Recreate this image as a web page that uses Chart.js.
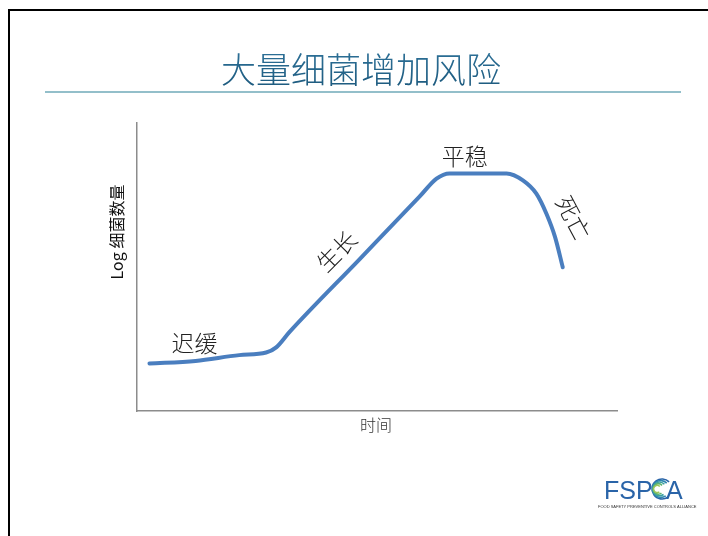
<!DOCTYPE html>
<html>
<head>
<meta charset="utf-8">
<script src="https://cdn.jsdelivr.net/npm/chart.js@4.4.0/dist/chart.umd.min.js"></script>
<style>
  html, body { margin: 0; padding: 0; background: #fff; }
  #wrap { position: relative; width: 708px; height: 536px; overflow: hidden; }
</style>
</head>
<body>
<div id="wrap"><canvas id="growthChart" width="708" height="536"></canvas></div>
<script>
// growth curve (time 0-100, log count 0-100)
const timeValues = [2.6, 12.2, 21.3, 26.9, 29.0, 31.7, 46.3, 58.9, 62.4, 65.1, 77.0, 80.4, 83.2, 85.3, 87.1, 88.7];
const logCounts = [16.5, 17.4, 19.4, 20.3, 22.1, 27.3, 52.6, 74.5, 80.7, 82.5, 82.5, 80.1, 75.5, 68.5, 60.4, 49.9];

// phase labels: text, x, y (data units), rotation in degrees
const phaseNames = ['迟缓', '生长', '平稳', '死亡'];
const phaseX = [12, 41.6, 68.3, 90.9];
const phaseY = [23.5, 55.5, 88.5, 67];
const phaseAngle = [0, -45, 0, 62];

const titleText = '大量细菌增加风险';
const xAxisTitle = '时间';
const yAxisTitle = 'Log 细菌数量';

const cjk = '"Noto Sans CJK SC", "Noto Sans", sans-serif';

// draws the slide frame, title, phase labels and logo
const slidePlugin = {
    id: 'slide',
    beforeDraw(chart) {
        const ctx = chart.ctx;
        ctx.save();
        ctx.fillStyle = '#fff';
        ctx.fillRect(0, 0, chart.width, chart.height);
        // frame
        ctx.fillStyle = '#000';
        ctx.fillRect(8, 9, 700, 2);
        ctx.fillRect(8, 9, 2, 527);
        // title
        const grad = ctx.createLinearGradient(0, 52, 0, 88);
        grad.addColorStop(0, '#2c6f96');
        grad.addColorStop(1, '#1d5a7e');
        ctx.fillStyle = grad;
        ctx.font = '300 35px ' + cjk;
        ctx.textAlign = 'center';
        ctx.textBaseline = 'middle';
        ctx.fillText(titleText, 361, 70);
        // underline
        ctx.fillStyle = '#93bfca';
        ctx.fillRect(45, 91, 636, 2);
        ctx.restore();
    },
    afterDraw(chart) {
        const ctx = chart.ctx;
        const xs = chart.scales.x;
        const ys = chart.scales.y;
        ctx.save();
        ctx.fillStyle = '#222';
        ctx.font = '300 23px ' + cjk;
        ctx.textAlign = 'center';
        ctx.textBaseline = 'middle';
        phaseNames.forEach((name, i) => {
            ctx.save();
            ctx.translate(xs.getPixelForValue(phaseX[i]), ys.getPixelForValue(phaseY[i]));
            ctx.rotate(phaseAngle[i] * Math.PI / 180);
            ctx.fillText(name, 0, 0);
            ctx.restore();
        });
        // axis titles
        ctx.fillStyle = '#333';
        ctx.font = '300 16px ' + cjk;
        ctx.fillText(xAxisTitle, 376, 425);
        ctx.save();
        ctx.translate(117, 232);
        ctx.rotate(-Math.PI / 2);
        ctx.font = '16px ' + cjk;
        ctx.fillStyle = '#111';
        ctx.fillText(yAxisTitle, 0, 0);
        ctx.restore();
        // logo
        ctx.textAlign = 'left';
        ctx.textBaseline = 'alphabetic';
        ctx.fillStyle = '#2a64a8';
        ctx.font = '25px "Liberation Sans", sans-serif';
        ctx.fillText('FSP', 604, 499);
        ctx.fillText('A', 666, 499);
        const arcColors = ['#2a64a8', '#2f86b0', '#3aa0a0', '#5db36f', '#9ac65a'];
        arcColors.forEach((c, i) => {
            ctx.beginPath();
            ctx.strokeStyle = c;
            ctx.lineWidth = 1.6;
            ctx.arc(662 - i * 1.2, 489, 10 - i * 1.6, Math.PI * 0.3, Math.PI * 1.75);
            ctx.stroke();
        });
        ctx.fillStyle = '#333';
        ctx.font = '4px "Liberation Sans", sans-serif';
        ctx.fillText('FOOD SAFETY PREVENTIVE CONTROLS ALLIANCE', 598, 508);
        ctx.restore();
    }
};

const ctx = document.getElementById('growthChart').getContext('2d');
const growthChart = new Chart(ctx, {
    type: 'line',
    data: {
        datasets: [{
            data: timeValues.map((t, i) => ({ x: t, y: logCounts[i] })),
            borderColor: '#4a7ebf',
            borderWidth: 4,
            pointRadius: 0,
            cubicInterpolationMode: 'monotone',
            borderCapStyle: 'round',
            borderJoinStyle: 'round',
            fill: false
        }]
    },
    options: {
        responsive: false,
        animation: false,
        layout: { padding: { left: 137, right: 91, top: 123, bottom: 125 } },
        plugins: {
            legend: { display: false },
            tooltip: { enabled: false }
        },
        scales: {
            x: {
                type: 'linear',
                min: 0,
                max: 100,
                grid: { display: false, drawTicks: false },
                ticks: { display: false },
                border: { display: true, color: '#8c8c8c', width: 1.5 }
            },
            y: {
                min: 0,
                max: 100,
                grid: { display: false, drawTicks: false },
                ticks: { display: false },
                border: { display: true, color: '#8c8c8c', width: 1.5 }
            }
        }
    },
    plugins: [slidePlugin]
});
</script>
</body>
</html>
